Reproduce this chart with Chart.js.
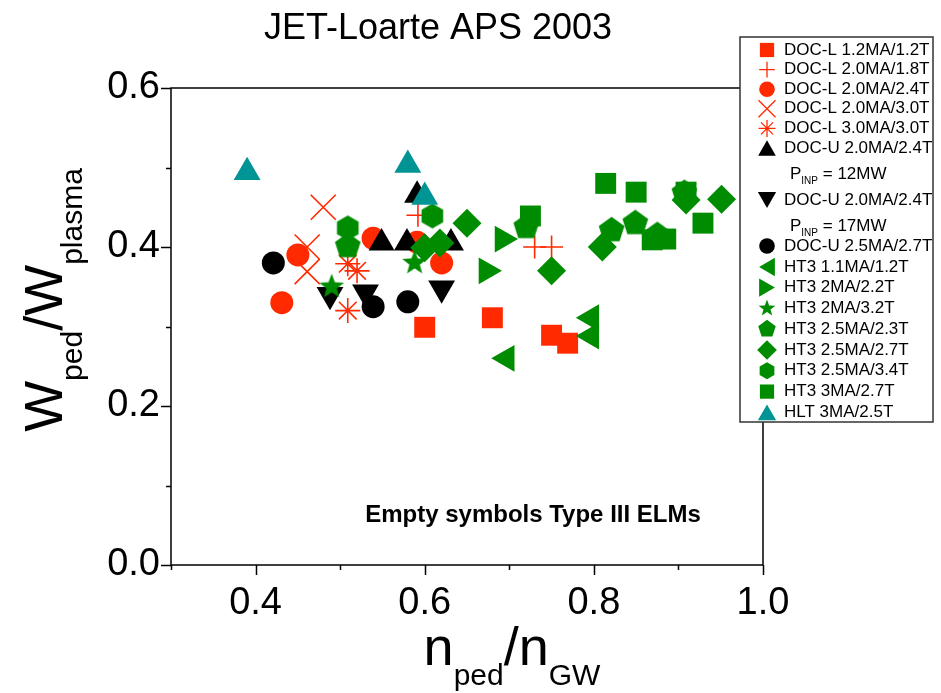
<!DOCTYPE html>
<html><head><meta charset="utf-8">
<script src="https://cdn.jsdelivr.net/npm/chart.js@4.4.1/dist/chart.umd.min.js"></script>
<style>html,body{margin:0;padding:0;background:#fff;}canvas{display:block;}</style>
</head><body>
<canvas id="c" width="941" height="693"></canvas>
<script>
// ---------- text ----------
const titleText = 'JET-Loarte APS 2003';
const noteText = 'Empty symbols Type III ELMs';
const xTickLabels = ['0.4', '0.6', '0.8', '1.0'];
const yTickLabels = ['0.0', '0.2', '0.4', '0.6'];

// ---------- data (n_ped/n_GW , W_ped/W_plasma) ----------
const docL_12_x = [0.600, 0.680, 0.750, 0.769];
const docL_12_y = [0.299, 0.311, 0.289, 0.279];
const docL_18_x = [0.592, 0.730, 0.750];
const docL_18_y = [0.440, 0.400, 0.400];
const docL_24_x = [0.431, 0.450, 0.539, 0.591, 0.620];
const docL_24_y = [0.330, 0.390, 0.411, 0.406, 0.380];
const docL_30_x = [0.480, 0.461, 0.461];
const docL_30_y = [0.450, 0.400, 0.369];
const docL_33_x = [0.509, 0.520, 0.509];
const docL_33_y = [0.379, 0.370, 0.320];
const docU_12_x = [0.549, 0.579, 0.631, 0.591];
const docU_12_y = [0.405, 0.405, 0.405, 0.465];
const docU_17_x = [0.488, 0.530, 0.620];
const docU_17_y = [0.340, 0.343, 0.348];
const docU_27_x = [0.421, 0.539, 0.580];
const docU_27_y = [0.380, 0.325, 0.331];
const ht3_11_x = [0.697, 0.797, 0.797];
const ht3_11_y = [0.260, 0.311, 0.288];
const ht3_22_x = [0.692, 0.673];
const ht3_22_y = [0.410, 0.370];
const ht3_32_x = [0.490, 0.588];
const ht3_32_y = [0.350, 0.380];
const ht3_23_x = [0.509, 0.720, 0.821, 0.849, 0.875, 0.907];
const ht3_23_y = [0.401, 0.425, 0.421, 0.430, 0.415, 0.468];
const ht3_27_x = [0.600, 0.618, 0.650, 0.750, 0.810, 0.909, 0.951];
const ht3_27_y = [0.399, 0.405, 0.430, 0.370, 0.400, 0.459, 0.460];
const ht3_34_x = [0.509, 0.609];
const ht3_34_y = [0.424, 0.439];
const ht3_3_x = [0.725, 0.814, 0.850, 0.869, 0.885, 0.909, 0.929];
const ht3_3_y = [0.439, 0.480, 0.469, 0.409, 0.410, 0.469, 0.430];
const hlt_x = [0.390, 0.580, 0.600];
const hlt_y = [0.494, 0.503, 0.463];

const seriesLabels = [
  'DOC-L 1.2MA/1.2T', 'DOC-L 2.0MA/1.8T', 'DOC-L 2.0MA/2.4T', 'DOC-L 2.0MA/3.0T',
  'DOC-L 3.0MA/3.0T', 'DOC-U 2.0MA/2.4T', 'DOC-U 2.0MA/2.4T', 'DOC-U 2.5MA/2.7T',
  'HT3 1.1MA/1.2T', 'HT3 2MA/2.2T', 'HT3 2MA/3.2T', 'HT3 2.5MA/2.3T',
  'HT3 2.5MA/2.7T', 'HT3 2.5MA/3.4T', 'HT3 3MA/2.7T', 'HLT 3MA/2.5T'
];
const pinpNotes = ['12MW', '17MW'];

// ---------- styles ----------
const RED = '#ff2a00', GREEN = '#008c00', TEAL = '#009494', BLACK = '#000000';
const FONT = "'Liberation Sans', Arial, sans-serif";

function makeShape(kind, r, color) {
  const s = Math.ceil(2 * r + 2);
  const c = document.createElement('canvas');
  c.width = s; c.height = s;
  const g = c.getContext('2d');
  g.fillStyle = color;
  g.beginPath();
  const cx = s / 2, cy = s / 2;
  let n, step, rr;
  if (kind === 'star5') { n = 10; step = Math.PI / 5; }
  else if (kind === 'pentagon') { n = 5; step = 2 * Math.PI / 5; }
  else { n = 6; step = Math.PI / 3; }
  for (let i = 0; i < n; i++) {
    const a = -Math.PI / 2 + i * step;
    rr = (kind === 'star5' && i % 2) ? r * 0.42 : r;
    const px = cx + rr * Math.cos(a), py = cy + rr * Math.sin(a);
    if (i === 0) g.moveTo(px, py); else g.lineTo(px, py);
  }
  g.closePath();
  g.fill();
  return c;
}

const pts = (xs, ys) => xs.map((x, i) => ({ x: x, y: ys[i] }));

const specs = [
  [docL_12_x, docL_12_y, 'rect', 14.8, RED, true, 0],
  [docL_18_x, docL_18_y, 'cross', 11.5, RED, false, 0],
  [docL_24_x, docL_24_y, 'circle', 11.5, RED, true, 0],
  [docL_30_x, docL_30_y, 'crossRot', 17.7, RED, false, 0],
  [docL_33_x, docL_33_y, 'star', 12.5, RED, false, 0],
  [docU_12_x, docU_12_y, 'triangle', 15, BLACK, true, 0],
  [docU_17_x, docU_17_y, 'triangle', 15.5, BLACK, true, 180],
  [docU_27_x, docU_27_y, 'circle', 11.5, BLACK, true, 0],
  [ht3_11_x, ht3_11_y, 'triangle', 15.5, GREEN, true, 270],
  [ht3_22_x, ht3_22_y, 'triangle', 15.5, GREEN, true, 90],
  [ht3_32_x, ht3_32_y, 'star5', 13, GREEN, true, 0],
  [ht3_23_x, ht3_23_y, 'pentagon', 13.5, GREEN, true, 0],
  [ht3_27_x, ht3_27_y, 'rectRot', 14.5, GREEN, true, 0],
  [ht3_34_x, ht3_34_y, 'hexagon', 12.5, GREEN, true, 0],
  [ht3_3_x, ht3_3_y, 'rect', 14.8, GREEN, true, 0],
  [hlt_x, hlt_y, 'triangle', 15.5, TEAL, true, 0]
];

const N = specs.length;
const datasets = specs.map((s, i) => {
  const [xs, ys, shape, r, color, filled, rot] = s;
  const custom = (shape === 'star5' || shape === 'pentagon' || shape === 'hexagon');
  return {
    label: seriesLabels[i],
    data: pts(xs, ys),
    pointStyle: custom ? makeShape(shape, r, color) : shape,
    legendShape: shape,
    legendRadius: r,
    pointRadius: r,
    pointRotation: rot,
    pointBackgroundColor: filled ? color : 'rgba(0,0,0,0)',
    pointBorderColor: color,
    pointBorderWidth: filled ? 0 : 1.6,
    showLine: false,
    order: N - i
  };
});

function drawMarker(ctx, ds, x, y, k) {
  const shape = ds.legendShape;
  const r = ds.legendRadius * k;
  const color = ds.pointBorderColor;
  ctx.save();
  ctx.translate(x, y);
  ctx.rotate(ds.pointRotation * Math.PI / 180);
  ctx.fillStyle = color; ctx.strokeStyle = color; ctx.lineWidth = 1.3;
  ctx.beginPath();
  if (shape === 'rect') {
    const h = r * Math.SQRT1_2; ctx.rect(-h, -h, 2 * h, 2 * h); ctx.fill();
  } else if (shape === 'circle') {
    ctx.arc(0, 0, r, 0, Math.PI * 2); ctx.fill();
  } else if (shape === 'triangle') {
    for (let i = 0; i < 3; i++) {
      const a = i * 2 * Math.PI / 3;
      const px = Math.sin(a) * r, py = -Math.cos(a) * r + r / 4;
      if (i === 0) ctx.moveTo(px, py); else ctx.lineTo(px, py);
    }
    ctx.closePath(); ctx.fill();
  } else if (shape === 'rectRot') {
    ctx.moveTo(0, -r); ctx.lineTo(r, 0); ctx.lineTo(0, r); ctx.lineTo(-r, 0); ctx.closePath(); ctx.fill();
  } else if (shape === 'cross' || shape === 'crossRot' || shape === 'star') {
    if (shape !== 'crossRot') { ctx.moveTo(-r, 0); ctx.lineTo(r, 0); ctx.moveTo(0, -r); ctx.lineTo(0, r); }
    if (shape !== 'cross') { const o = r * Math.SQRT1_2; ctx.moveTo(-o, -o); ctx.lineTo(o, o); ctx.moveTo(-o, o); ctx.lineTo(o, -o); }
    ctx.stroke();
  } else {
    let n = shape === 'pentagon' ? 5 : (shape === 'hexagon' ? 6 : 10);
    const step = shape === 'star5' ? Math.PI / 5 : 2 * Math.PI / n;
    for (let i = 0; i < n; i++) {
      const a = -Math.PI / 2 + i * step;
      const rr = (shape === 'star5' && i % 2) ? r * 0.42 : r;
      if (i === 0) ctx.moveTo(rr * Math.cos(a), rr * Math.sin(a)); else ctx.lineTo(rr * Math.cos(a), rr * Math.sin(a));
    }
    ctx.closePath(); ctx.fill();
  }
  ctx.restore();
}

function partsWidth(ctx, parts, big, small) {
  let w = 0;
  parts.forEach(p => { ctx.font = (p[1] ? small : big) + 'px ' + FONT; w += ctx.measureText(p[0]).width; });
  return w;
}
function drawParts(ctx, parts, x, y, big, small, off) {
  ctx.textBaseline = 'alphabetic'; ctx.textAlign = 'left';
  parts.forEach(p => {
    ctx.font = (p[1] ? small : big) + 'px ' + FONT;
    ctx.fillText(p[0], x, p[1] ? y + off : y);
    x += ctx.measureText(p[0]).width;
  });
}

const decor = {
  id: 'decor',
  afterDraw(chart) {
    const ctx = chart.ctx, ca = chart.chartArea;
    const xs = chart.scales.x, ys = chart.scales.y;
    ctx.save();
    ctx.strokeStyle = '#000'; ctx.lineWidth = 1.5;
    ctx.strokeRect(ca.left, ca.top, ca.right - ca.left, ca.bottom - ca.top);
    ctx.beginPath();
    xs.ticks.forEach(t => {
      const px = Math.round(xs.getPixelForValue(t.value)) + 0.5;
      const major = Math.round(t.value * 10) % 2 === 0;
      ctx.moveTo(px, ca.bottom); ctx.lineTo(px, ca.bottom + (major ? 10 : 5));
    });
    ys.ticks.forEach(t => {
      const py = Math.round(ys.getPixelForValue(t.value)) + 0.5;
      const major = Math.round(t.value * 10) % 2 === 0;
      ctx.moveTo(ca.left, py); ctx.lineTo(ca.left - (major ? 10 : 5), py);
    });
    ctx.stroke();

    ctx.fillStyle = '#000';
    ctx.font = '36px ' + FONT; ctx.textAlign = 'center'; ctx.textBaseline = 'alphabetic';
    ctx.fillText(titleText, 438, 39);
    ctx.font = 'bold 24px ' + FONT;
    ctx.textBaseline = 'middle';
    ctx.fillText(noteText, 533, 515);

    const xParts = [['n', 0], ['ped', 1], ['/', 0], ['n', 0], ['GW', 1]];
    const xw = partsWidth(ctx, xParts, 54, 30);
    drawParts(ctx, xParts, 512 - xw / 2, 665, 54, 30, 20);
    const yParts = [['W', 0], ['ped', 1], ['/', 0], ['W', 0], ['plasma', 1]];
    const yw = partsWidth(ctx, yParts, 54, 30);
    ctx.save();
    ctx.translate(62, 300);
    ctx.rotate(-Math.PI / 2);
    drawParts(ctx, yParts, -yw / 2, 0, 54, 30, 20);
    ctx.restore();

    // legend
    ctx.fillStyle = '#fff';
    ctx.fillRect(740, 37, 193, 385);
    ctx.strokeStyle = '#333'; ctx.lineWidth = 1.5;
    ctx.strokeRect(740, 37, 193, 385);
    const rowY = [50, 69.6, 89.2, 108.8, 128.4, 148, 200, 246, 267, 287.6, 308.4, 329, 350, 370.8, 391.6, 412.4];
    const noteY = [173, 225];
    chart.data.datasets.forEach((ds, i) => {
      drawMarker(ctx, ds, 767, rowY[i], 0.68);
      ctx.fillStyle = '#000';
      ctx.font = '17px ' + FONT; ctx.textAlign = 'left'; ctx.textBaseline = 'middle';
      ctx.fillText(ds.label, 784, rowY[i]);
    });
    noteY.forEach((y, j) => {
      ctx.fillStyle = '#000';
      ctx.textBaseline = 'alphabetic'; ctx.textAlign = 'left';
      ctx.font = '17px ' + FONT; ctx.fillText('P', 790, y + 6);
      const pw = ctx.measureText('P').width;
      ctx.font = '10px ' + FONT; ctx.fillText('INP', 790 + pw, y + 11);
      const iw = ctx.measureText('INP').width;
      ctx.font = '17px ' + FONT; ctx.fillText(' = ' + pinpNotes[j], 790 + pw + iw, y + 6);
    });
    ctx.restore();
  }
};

const tickFont = { family: FONT, size: 38 };
new Chart(document.getElementById('c'), {
  type: 'scatter',
  data: { datasets: datasets },
  options: {
    responsive: false,
    animation: false,
    events: [],
    layout: { padding: { top: 88, right: 178, left: 0, bottom: 0 } },
    plugins: { legend: { display: false }, title: { display: false }, tooltip: { enabled: false } },
    scales: {
      x: {
        type: 'linear', min: 0.3, max: 1.0,
        grid: { display: false },
        border: { display: false },
        ticks: {
          stepSize: 0.1, color: '#000', font: tickFont, padding: 8, maxRotation: 0, autoSkip: false,
          callback: v => { const s = Number(v).toFixed(1); return xTickLabels.includes(s) ? s : ''; }
        },
        afterFit: s => { s.height = 128; }
      },
      y: {
        type: 'linear', min: 0, max: 0.6,
        grid: { display: false },
        border: { display: false },
        ticks: {
          stepSize: 0.1, color: '#000', font: tickFont, padding: 3, autoSkip: false,
          callback: v => { const s = Number(v).toFixed(1); return yTickLabels.includes(s) ? s : ''; }
        },
        afterFit: s => { s.width = 171; }
      }
    }
  },
  plugins: [decor]
});
</script>
</body></html>
